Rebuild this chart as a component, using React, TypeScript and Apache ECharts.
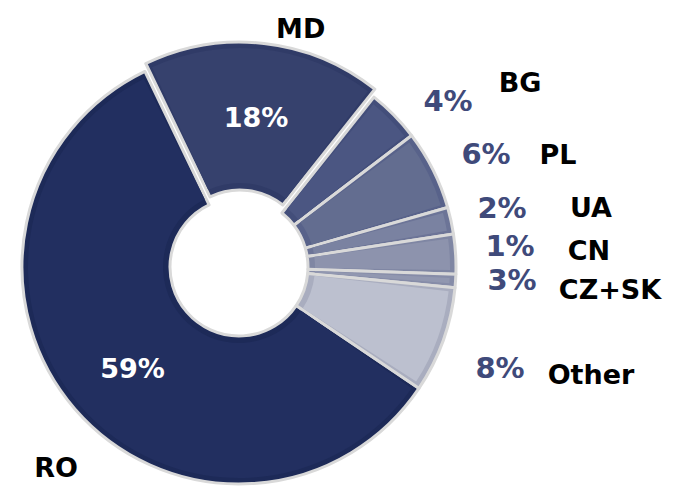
import React, { useEffect, useRef } from 'react';
import * as echarts from 'echarts';

// Data (clockwise from the RO / Other boundary)
const categories = ['RO', 'MD', 'BG', 'PL', 'UA', 'CZ+SK', 'CN', 'Other'];
const values = [59, 18, 4, 6, 2, 3, 1, 8];
const fillColors = ['#222f60', '#36416d', '#4b5682', '#636d90', '#7a82a1', '#8d93ad', '#9197b0', '#bcc0cf'];
const bandColors = ['#1d2a58', '#303b67', '#434e7a', '#58628a', '#6c7497', '#7f86a3', '#868ca8', '#a9adbf'];
const insideLabelCats = ['RO', 'MD'];
const explodedCat = 'MD';

// label anchor points (label layout only)
const pctLabelPos: Record<string, [number, number]> = {
  BG: [448, 101],
  PL: [486, 154],
  UA: [502, 208],
  CN: [510, 246],
  'CZ+SK': [512, 280],
  Other: [500, 368],
};
const insideLabelShift: Record<string, [number, number]> = {
  RO: [4, 6],
  MD: [0, 4],
};
const nameLabelPos: Record<string, [number, number]> = {
  RO: [56, 467],
  MD: [285, 22],
  BG: [520, 82],
  PL: [558, 154],
  UA: [591, 207],
  CN: [589, 250],
  'CZ+SK': [610, 289],
  Other: [591, 374],
};

const FONT = 'DejaVu Sans';
const CENTER: [number, number] = [239, 267];
const START = -34;

export default function App() {
  const ref = useRef<HTMLDivElement>(null);
  useEffect(() => {
    if (!ref.current) return;
    const chart = echarts.init(ref.current, undefined, { renderer: 'svg' });
    const common = {
      type: 'pie',
      center: CENTER,
      startAngle: START,
      clockwise: true,
      selectedMode: 'single',
      selectedOffset: 8,
      avoidLabelOverlap: false,
      emphasis: { disabled: true },
      labelLine: { show: false },
    };
    const baseData = categories.map((c, i) => ({
      name: c,
      value: values[i],
      selected: c === explodedCat,
      itemStyle: { color: bandColors[i] },
      label: insideLabelCats.includes(c)
        ? { show: true, position: 'inside', color: '#ffffff', fontSize: 27 }
        : { show: true, position: 'outside', color: '#3f4a7a', fontSize: 29 },
    }));
    const fillData = categories.map((c, i) => ({
      name: c,
      value: values[i],
      selected: c === explodedCat,
      itemStyle: { color: fillColors[i] },
    }));
    const nameData = categories.map((c, i) => ({
      name: c,
      value: values[i],
      selected: c === explodedCat,
      itemStyle: { color: 'rgba(0,0,0,0)' },
    }));
    chart.setOption({
      animation: false,
      backgroundColor: '#ffffff',
      series: [
        {
          ...common,
          name: 'base',
          radius: [69, 217],
          itemStyle: { borderColor: '#d9d9d9', borderWidth: 3 },
          label: {
            fontFamily: FONT,
            fontWeight: 'bold',
            formatter: (p: any) => `${p.value}%`,
          },
          labelLayout: (p: any) => {
            const cat = categories[p.dataIndex];
            const pos = pctLabelPos[cat];
            if (!pos) {
              const s = insideLabelShift[cat] || [0, 0];
              return { dx: s[0], dy: s[1] };
            }
            return { x: pos[0], y: pos[1], align: 'center', verticalAlign: 'middle' };
          },
          data: baseData,
        },
        {
          ...common,
          name: 'fill',
          silent: true,
          radius: [76, 211],
          padAngle: 2.2,
          itemStyle: { borderWidth: 0 },
          label: { show: false },
          data: fillData,
        },
        {
          ...common,
          name: 'names',
          silent: true,
          radius: [69, 217],
          itemStyle: { borderWidth: 0 },
          label: {
            show: true,
            position: 'outside',
            fontFamily: FONT,
            fontWeight: 'bold',
            fontSize: 27,
            color: '#000000',
            formatter: (p: any) => p.name,
          },
          labelLayout: (p: any) => {
            const pos = nameLabelPos[categories[p.dataIndex]];
            return { x: pos[0], y: pos[1], align: 'center', verticalAlign: 'middle' };
          },
          data: nameData,
        },
      ],
    });
    return () => chart.dispose();
  }, []);
  return (
    <div
      ref={ref}
      style={{ position: 'absolute', left: 0, top: 0, width: 675, height: 487 }}
    />
  );
}
